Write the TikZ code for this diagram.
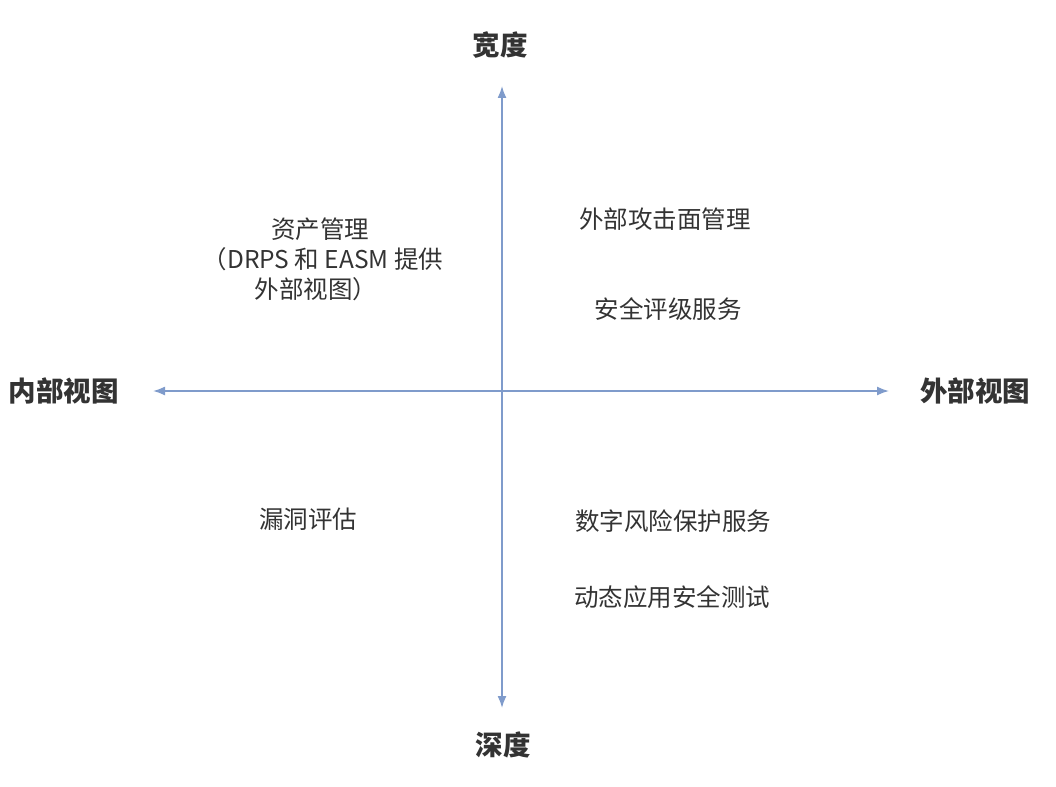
\documentclass[tikz,border=0pt]{standalone}
\usepackage{fontspec}
\setmainfont{Noto Sans CJK SC}
\usetikzlibrary{arrows.meta}
\definecolor{axis}{HTML}{7F9BCB}
\definecolor{txt}{HTML}{333333}
\begin{document}
\begin{tikzpicture}[x=1pt,y=-1pt,
  ax/.style={draw=axis,line width=1.6pt,-{Latex[length=12pt,width=9pt]}},
  lbl/.style={font=\fontsize{27.5}{32}\selectfont\bfseries,text=txt,inner sep=0pt},
  item/.style={font=\fontsize{24.5}{30}\selectfont,text=txt,inner sep=0pt,align=center}]
\useasboundingbox (0,0) rectangle (1056,786);
\coordinate (o) at (502,391);
\coordinate (top) at (502,86);
\coordinate (bot) at (502,708);
\coordinate (lft) at (153,391);
\coordinate (rgt) at (889,391);
\draw[ax] (o) -- (top);
\draw[ax] (o) -- (bot);
\draw[ax] (o) -- (lft);
\draw[ax] (o) -- (rgt);
\node[lbl] (w) at (500,45) {宽度};
\node[lbl] (d) at (503,745) {深度};
\node[lbl] (in) at (64,391) {内部视图};
\node[lbl] (ex) at (975,391) {外部视图};
\node[item] (a1) at (320,229) {资产管理};
\node[item] (a2) at (323,259) {（DRPS 和 EASM 提供};
\node[item] (a3) at (316,289) {外部视图）};
\node[item] (b1) at (665,219) {外部攻击面管理};
\node[item] (b2) at (668,309) {安全评级服务};
\node[item] (c1) at (308,519) {漏洞评估};
\node[item] (d1) at (673,521) {数字风险保护服务};
\node[item] (d2) at (672,597) {动态应用安全测试};
\end{tikzpicture}
\end{document}
